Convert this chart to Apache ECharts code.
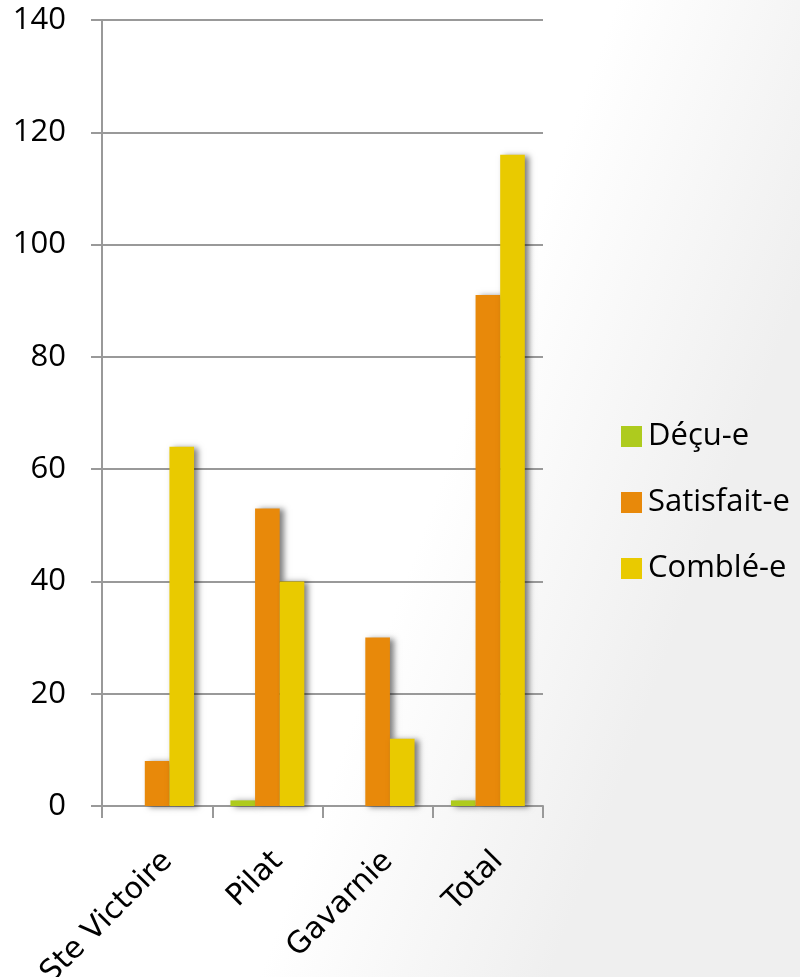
<!DOCTYPE html>
<html>
<head>
<meta charset="utf-8">
<script src="https://cdn.jsdelivr.net/npm/echarts@6/dist/echarts.min.js"></script>
<style>
html,body{margin:0;padding:0;}
#chart{width:800px;height:977px;}
</style>
</head>
<body>
<div id="chart"></div>
<script>
const categories = ['Ste Victoire', 'Pilat', 'Gavarnie', 'Total'];
const seriesNames = ['Déçu-e', 'Satisfait-e', 'Comblé-e'];
const decu = [0, 1, 0, 1];
const satisfait = [8, 53, 30, 91];
const comble = [64, 40, 12, 116];
const yTicks = [0, 20, 40, 60, 80, 100, 120, 140];

const colors = ['#AECB1E', '#E8890A', '#E9CA00'];
const chart = echarts.init(document.getElementById('chart'));
const shadow = {shadowColor: 'rgba(0,0,0,0.5)', shadowBlur: 6, shadowOffsetX: 4, shadowOffsetY: 1};
const values = [decu, satisfait, comble];
chart.setOption({
  animation: false,
  backgroundColor: new echarts.graphic.LinearGradient(0, 0, 1, 0.3, [
    {offset: 0, color: '#ffffff'},
    {offset: 0.68, color: '#ffffff'},
    {offset: 1, color: '#efefef'}
  ]),
  grid: {left: 102, right: 257, top: 20, bottom: 171, containLabel: false, outerBoundsMode: 'none'},
  legend: {
    orient: 'vertical', left: 616, top: 416,
    itemWidth: 21, itemHeight: 21, itemGap: 35,
    icon: 'rect',
    textStyle: {fontFamily: 'Open Sans', fontSize: 31, lineHeight: 31, color: '#000', padding: [0,0,0,1]},
    data: seriesNames
  },
  xAxis: {
    type: 'category', data: categories,
    axisLine: {lineStyle: {color: '#999', width: 2}},
    axisTick: {show: true, length: 12, lineStyle: {color: '#999', width: 2}},
    axisLabel: {rotate: 45, fontFamily: 'DejaVu Sans', fontSize: 30, color: '#000', margin: 40,
      align: 'right', verticalAlign: 'top'}
  },
  yAxis: {
    type: 'value', min: 0, max: 140, interval: 20,
    axisLine: {show: true, lineStyle: {color: '#999', width: 2}},
    axisTick: {show: true, length: 11, lineStyle: {color: '#999', width: 2}},
    splitLine: {lineStyle: {color: '#999', width: 2}},
    axisLabel: {fontFamily: 'Open Sans', fontSize: 31, color: '#000', margin: 36,
      formatter: v => yTicks.includes(v) ? String(v) : ''}
  },
  series: seriesNames.map((n, i) => ({
    name: n, type: 'bar', data: values[i],
    barGap: '0%', barCategoryGap: '33%',
    itemStyle: Object.assign({color: colors[i]}, shadow)
  }))
});
</script>
</body>
</html>
